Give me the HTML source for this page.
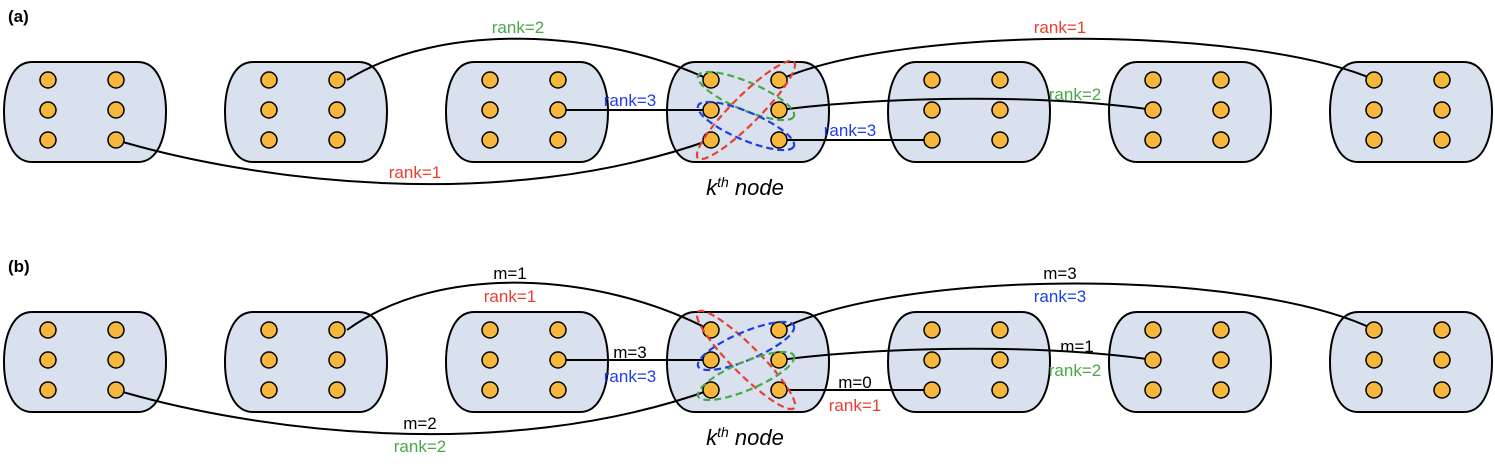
<!DOCTYPE html>
<html><head><style>body{margin:0;background:#fff}svg{display:block}</style></head><body>
<svg width="1495" height="470" viewBox="0 0 1495 470" xmlns="http://www.w3.org/2000/svg" font-family="'Liberation Sans', sans-serif">
<defs>
<path id="shape" d="M22,0 H128 C148,0 156,25 156,50 C156,75 148,100 128,100 H22 C2,100 -6,75 -6,50 C-6,25 2,0 22,0 Z" fill="#d9e1ef" stroke="#000" stroke-width="2"/>
<g id="dots" fill="#f6b73c" stroke="#000" stroke-width="1.5">
<circle cx="38" cy="18" r="8"/><circle cx="106" cy="18" r="8"/>
<circle cx="38" cy="48" r="8"/><circle cx="106" cy="48" r="8"/>
<circle cx="38" cy="78" r="8"/><circle cx="106" cy="78" r="8"/>
</g>
</defs>
<text x="8" y="22" font-size="17" font-weight="bold">(a)</text>
<text x="8" y="272" font-size="17" font-weight="bold">(b)</text>
<g>
<use href="#shape" x="10" y="62"/><use href="#shape" x="231" y="62"/><use href="#shape" x="452" y="62"/><use href="#shape" x="673" y="62"/><use href="#shape" x="894" y="62"/><use href="#shape" x="1115" y="62"/><use href="#shape" x="1336" y="62"/>
<use href="#shape" x="10" y="312"/><use href="#shape" x="231" y="312"/><use href="#shape" x="452" y="312"/><use href="#shape" x="673" y="312"/><use href="#shape" x="894" y="312"/><use href="#shape" x="1115" y="312"/><use href="#shape" x="1336" y="312"/>
</g>
<g fill="none" stroke="#000" stroke-width="2">
<path d="M347,80 C440,22 600,28 710,80"/>
<path d="M116,140 C250,180 500,215 710,140"/>
<path d="M557,110 H710"/>
<path d="M779,80 C900,25 1250,25 1375,80"/>
<path d="M779,110 C900,95 1050,95 1154,110"/>
<path d="M779,140 H933"/>
<path d="M347,330 C440,262 600,272 710,330"/>
<path d="M116,390 C250,430 500,465 710,390"/>
<path d="M557,360 H710"/>
<path d="M779,330 C900,268 1250,268 1375,330"/>
<path d="M779,360 C900,345 1050,345 1154,360"/>
<path d="M779,390 H933"/>
</g>
<g>
<use href="#dots" x="10" y="62"/><use href="#dots" x="231" y="62"/><use href="#dots" x="452" y="62"/><use href="#dots" x="673" y="62"/><use href="#dots" x="894" y="62"/><use href="#dots" x="1115" y="62"/><use href="#dots" x="1336" y="62"/>
<use href="#dots" x="10" y="312"/><use href="#dots" x="231" y="312"/><use href="#dots" x="452" y="312"/><use href="#dots" x="673" y="312"/><use href="#dots" x="894" y="312"/><use href="#dots" x="1115" y="312"/><use href="#dots" x="1336" y="312"/>
</g>
<g fill="none" stroke-width="2.2" stroke-dasharray="7,4">
<ellipse cx="746" cy="96" rx="52" ry="14" transform="rotate(23 746 96)" stroke="#4aa84a"/>
<ellipse cx="746" cy="110" rx="68" ry="14" transform="rotate(-45 746 110)" stroke="#e8402f"/>
<ellipse cx="746" cy="126" rx="52" ry="14" transform="rotate(23 746 126)" stroke="#1f3ee6"/>
<ellipse cx="746" cy="360" rx="68" ry="14" transform="rotate(45 746 360)" stroke="#e8402f"/>
<ellipse cx="746" cy="346" rx="52" ry="14" transform="rotate(-23 746 346)" stroke="#1f3ee6"/>
<ellipse cx="746" cy="376" rx="52" ry="14" transform="rotate(-23 746 376)" stroke="#4aa84a"/>
</g>
<g font-size="17" text-anchor="middle">
<text x="518" y="33" fill="#4aa84a">rank=2</text>
<text x="415" y="178" fill="#e8402f">rank=1</text>
<text x="630" y="106" fill="#1f3ee6">rank=3</text>
<text x="1060" y="33" fill="#e8402f">rank=1</text>
<text x="1075" y="100" fill="#4aa84a">rank=2</text>
<text x="850" y="136" fill="#1f3ee6">rank=3</text>
<text x="510" y="279">m=1</text><text x="510" y="302" fill="#e8402f">rank=1</text>
<text x="1060" y="279">m=3</text><text x="1060" y="302" fill="#1f3ee6">rank=3</text>
<text x="630" y="358">m=3</text><text x="630" y="382" fill="#1f3ee6">rank=3</text>
<text x="420" y="429">m=2</text><text x="420" y="452" fill="#4aa84a">rank=2</text>
<text x="1077" y="352">m=1</text><text x="1075" y="376" fill="#4aa84a">rank=2</text>
<text x="855" y="388">m=0</text><text x="855" y="411" fill="#e8402f">rank=1</text>
</g>
<g font-size="22" font-style="italic" text-anchor="middle">
<text x="745" y="195">k<tspan font-size="14" dy="-8">th</tspan><tspan dy="8"> node</tspan></text>
<text x="745" y="445">k<tspan font-size="14" dy="-8">th</tspan><tspan dy="8"> node</tspan></text>
</g>
</svg>
</body></html>
